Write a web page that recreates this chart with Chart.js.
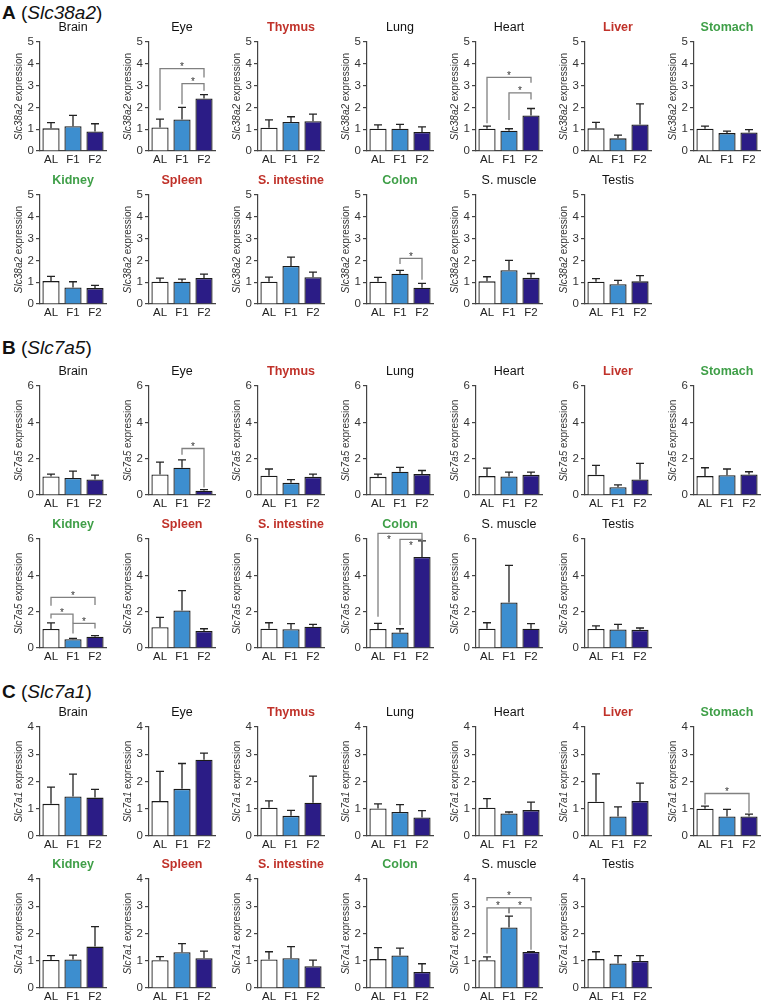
<!DOCTYPE html>
<html>
<head>
<meta charset="utf-8">
<script src="https://cdn.jsdelivr.net/npm/chart.js@4"></script>
<style>
body { margin: 0; background: #fff; font-family: "Liberation Sans", Arial, sans-serif; }
#page { position: relative; width: 763px; height: 1001px; overflow: hidden; }
#page canvas { position: absolute; }
.head { position: absolute; left: 2px; font-size: 19px; line-height: 20px; color: #111; white-space: nowrap; }
</style>
</head>
<body>
<div id="page"></div>
<script>
const groups = ['AL', 'F1', 'F2']
const organs = ['Brain', 'Eye', 'Thymus', 'Lung', 'Heart', 'Liver', 'Stomach',
    'Kidney', 'Spleen', 'S. intestine', 'Colon', 'S. muscle', 'Testis']

// bar heights (AL, F1, F2) and top of the error bar, one row per organ
const slc38a2Mean = [
    [1.04, 1.14, 0.90], [1.08, 1.45, 2.41], [1.07, 1.33, 1.37], [1.02, 1.02, 0.87],
    [1.02, 0.93, 1.63], [1.04, 0.58, 1.22], [1.02, 0.82, 0.85], [1.05, 0.76, 0.73],
    [1.02, 1.02, 1.19], [1.02, 1.74, 1.23], [1.02, 1.39, 0.75], [1.04, 1.55, 1.20],
    [1.02, 0.91, 1.04]
]
const slc38a2Err = [
    [1.30, 1.63, 1.25], [1.46, 2.00, 2.59], [1.43, 1.57, 1.69], [1.20, 1.22, 1.11],
    [1.14, 1.02, 1.95], [1.31, 0.73, 2.16], [1.14, 0.91, 0.98], [1.27, 1.02, 0.85],
    [1.19, 1.14, 1.37], [1.23, 2.15, 1.46], [1.22, 1.54, 0.95], [1.25, 2.00, 1.40],
    [1.16, 1.08, 1.30]
]
const slc7a5Mean = [
    [1.02, 0.94, 0.85], [1.13, 1.50, 0.24], [1.06, 0.67, 1.00], [1.00, 1.28, 1.15],
    [1.04, 1.02, 1.11], [1.11, 0.43, 0.85], [1.04, 1.09, 1.13], [1.05, 0.48, 0.62],
    [1.14, 2.07, 0.94], [1.06, 1.03, 1.17], [1.05, 0.86, 5.01], [1.06, 2.51, 1.06],
    [1.05, 1.02, 1.00]
]
const slc7a5Err = [
    [1.15, 1.31, 1.09], [1.81, 1.93, 0.30], [1.43, 0.85, 1.15], [1.15, 1.52, 1.35],
    [1.48, 1.26, 1.26], [1.63, 0.56, 1.74], [1.50, 1.43, 1.28], [1.38, 0.53, 0.68],
    [1.69, 3.16, 1.06], [1.39, 1.34, 1.30], [1.36, 1.06, 5.90], [1.39, 4.55, 1.34],
    [1.22, 1.30, 1.10]
]
const slc7a1Mean = [
    [1.18, 1.45, 1.41], [1.28, 1.73, 2.80], [1.04, 0.74, 1.22], [1.01, 0.88, 0.68],
    [1.04, 0.83, 0.95], [1.26, 0.72, 1.28], [1.00, 0.72, 0.72], [1.03, 1.05, 1.52],
    [1.02, 1.31, 1.09], [1.05, 1.09, 0.80], [1.06, 1.19, 0.59], [1.02, 2.22, 1.32],
    [1.06, 0.90, 0.99]
]
const slc7a1Err = [
    [1.79, 2.27, 1.71], [2.37, 2.66, 3.04], [1.29, 0.94, 2.20], [1.18, 1.15, 0.93],
    [1.37, 0.88, 1.24], [2.28, 1.07, 1.94], [1.10, 0.98, 0.80], [1.19, 1.21, 2.25],
    [1.15, 1.63, 1.35], [1.33, 1.52, 1.02], [1.48, 1.46, 0.89], [1.14, 2.64, 1.33],
    [1.33, 1.19, 1.19]
]

// significance brackets: [organ, from, to, level, left foot, right foot, star x?, star below?]
const slc38a2Sig = [
    [1, 0, 2, 3.78, 1.87, 3.37], [1, 1, 2, 3.09, 2.15, 2.76],
    [4, 0, 2, 3.38, 1.27, 3.13], [4, 1, 2, 2.67, 1.42, 2.36],
    [10, 1, 2, 2.09, 1.84, 1.11]
]
const slc7a5Sig = [
    [1, 1, 2, 2.56, 2.22, 0.41],
    [7, 0, 2, 2.79, 2.33, 2.37], [7, 0, 1, 1.87, 1.63, 1.36], [7, 1, 2, 1.36, 0.80, 1.08],
    [10, 0, 2, 6.31, 1.72, 5.95, 0.5, true], [10, 1, 2, 5.98, 1.27, 5.85, 1.5, true]
]
const slc7a1Sig = [
    [6, 0, 2, 1.56, 1.16, 0.85],
    [11, 0, 2, 3.32, 3.20, 3.20], [11, 0, 1, 2.94, 1.27, 2.74], [11, 1, 2, 2.94, 2.74, 1.40]
]

const yMax = [5, 6, 4]
const yStep = [1, 2, 1]

const sections = [
    { letter: 'A', gene: 'Slc38a2', mean: slc38a2Mean, err: slc38a2Err, sig: slc38a2Sig },
    { letter: 'B', gene: 'Slc7a5', mean: slc7a5Mean, err: slc7a5Err, sig: slc7a5Sig },
    { letter: 'C', gene: 'Slc7a1', mean: slc7a1Mean, err: slc7a1Err, sig: slc7a1Sig }
]

// layout
const colX = [40, 149, 258, 367, 476, 585, 694]   // y axis line of each column
const rowTop = [[42, 195], [386, 539], [727, 879]] // pixel of the top tick
const headY = [13, 348, 692]
const plotH = 109

const RED = '#c0322a', GREEN = '#3f9f48'
const titleColor = {
    'Thymus': RED, 'Liver': RED, 'Spleen': RED, 'S. intestine': RED,
    'Stomach': GREEN, 'Kidney': GREEN, 'Colon': GREEN
}
const barFill = ['#ffffff', '#3d8ecf', '#2b1c86']
const FONT = '"Liberation Sans", Arial, sans-serif'

Chart.defaults.font.family = FONT

function extras(gene, err, sig) {
    return {
        id: 'extras',
        afterDatasetsDraw(chart) {
            const ctx = chart.ctx
            const xs = chart.scales.x, ys = chart.scales.y
            const bars = chart.getDatasetMeta(0).data
            const mean = chart.data.datasets[0].data
            ctx.save()
            // error bars (upper only)
            ctx.strokeStyle = '#222'
            ctx.lineWidth = 1.3
            err.forEach((e, i) => {
                const cx = bars[i].x
                const top = ys.getPixelForValue(e)
                ctx.beginPath()
                ctx.moveTo(cx, ys.getPixelForValue(mean[i]))
                ctx.lineTo(cx, top)
                ctx.moveTo(cx - 4, top)
                ctx.lineTo(cx + 4, top)
                ctx.stroke()
            })
            // brackets
            ctx.strokeStyle = '#808080'
            ctx.lineWidth = 1.3
            ctx.fillStyle = '#333'
            ctx.font = '10px ' + FONT
            ctx.textAlign = 'center'
            ctx.textBaseline = 'alphabetic'
            sig.forEach(b => {
                const [, i, j, lvl, fl, fr, sx, below] = b
                const x1 = bars[i].x, x2 = bars[j].x
                const yl = ys.getPixelForValue(lvl)
                ctx.beginPath()
                ctx.moveTo(x1, ys.getPixelForValue(fl))
                ctx.lineTo(x1, yl)
                ctx.lineTo(x2, yl)
                ctx.lineTo(x2, ys.getPixelForValue(fr))
                ctx.stroke()
                const stx = xs.getPixelForValue(sx !== undefined ? sx : (i + j) / 2)
                ctx.fillText('*', stx, below ? yl + 10 : yl + 1.5)
            })
            ctx.restore()
        },
        afterDraw(chart) {
            // y axis title: italic gene name + " expression"
            const ctx = chart.ctx
            const area = chart.chartArea
            const italic = 'italic 10px ' + FONT, plain = '10px ' + FONT
            ctx.save()
            ctx.fillStyle = '#333'
            ctx.font = italic
            const w1 = ctx.measureText(gene).width
            ctx.font = plain
            const w2 = ctx.measureText(' expression').width
            ctx.translate(area.left - 21, (area.top + area.bottom) / 2)
            ctx.rotate(-Math.PI / 2)
            ctx.textBaseline = 'middle'
            ctx.textAlign = 'left'
            const start = -(w1 + w2) / 2
            ctx.font = italic
            ctx.fillText(gene, start, 0)
            ctx.font = plain
            ctx.fillText(' expression', start + w1, 0)
            ctx.restore()
        }
    }
}

const page = document.getElementById('page')

sections.forEach((sec, s) => {
    const head = document.createElement('div')
    head.className = 'head'
    head.style.top = (headY[s] - 10) + 'px'
    head.innerHTML = '<b>' + sec.letter + '</b> (<i>' + sec.gene + '</i>)'
    page.appendChild(head)

    organs.forEach((organ, k) => {
        const row = k < 7 ? 0 : 1
        const col = k < 7 ? k : k - 7
        const cv = document.createElement('canvas')
        cv.width = 108
        cv.height = 26 + plotH + 20
        cv.style.left = (colX[col] - 40) + 'px'
        cv.style.top = (rowTop[s][row] - 26) + 'px'
        page.appendChild(cv)

        const colored = titleColor[organ]
        new Chart(cv, {
            type: 'bar',
            data: {
                labels: groups,
                datasets: [{
                    data: sec.mean[k],
                    backgroundColor: barFill,
                    borderColor: '#1a1a1a',
                    borderWidth: 1.3,
                    barPercentage: 0.78,
                    categoryPercentage: 1
                }]
            },
            options: {
                responsive: false,
                animation: false,
                devicePixelRatio: 1,
                layout: { padding: { right: 2 } },
                plugins: {
                    legend: { display: false },
                    tooltip: { enabled: false },
                    title: {
                        display: true,
                        text: organ,
                        fullSize: false,
                        color: colored || '#111',
                        font: { size: 12.5, weight: colored ? 'bold' : 'normal' },
                        padding: { top: 4, bottom: 7 }
                    }
                },
                scales: {
                    x: {
                        grid: { display: false, drawTicks: false },
                        border: { color: '#444', width: 1.2 },
                        ticks: { color: '#222', font: { size: 11.5 }, padding: 2 },
                        afterFit: sc => { sc.height = 20 }
                    },
                    y: {
                        min: 0,
                        max: yMax[s],
                        ticks: { stepSize: yStep[s], color: '#333', font: { size: 11.5 }, padding: 2 },
                        grid: { drawOnChartArea: false, tickLength: 4, color: '#444', lineWidth: 1.2 },
                        border: { color: '#444', width: 1.2 },
                        afterFit: sc => { sc.width = 40 }
                    }
                }
            },
            plugins: [extras(sec.gene, sec.err[k], sec.sig.filter(b => b[0] === k))]
        })
    })
})
</script>
</body>
</html>
